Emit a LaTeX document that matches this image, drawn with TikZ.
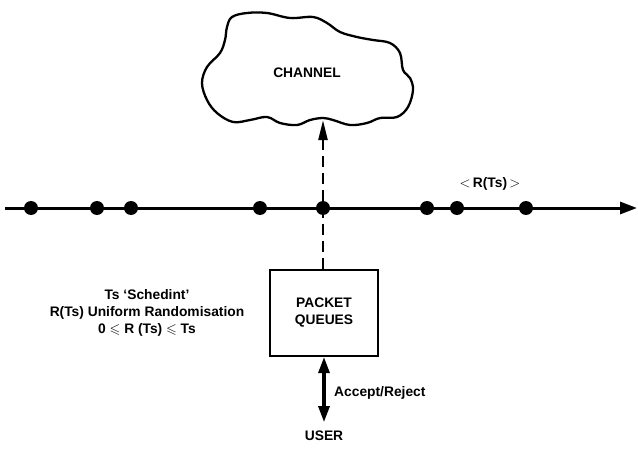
\documentclass[tikz,border=0pt]{standalone}
\usepackage{amssymb}
\usepackage{fontspec}
\setmainfont{Liberation Sans}
\usetikzlibrary{arrows.meta,calc,positioning}
\newcommand{\lbl}{\fontsize{13.8}{17}\selectfont\bfseries}

\begin{document}
\begin{tikzpicture}[x=1pt, y=-1pt]
\tikzstyle{main}=[font=\lbl, inner sep=2pt]
\tikzstyle{queue}=[main, rectangle, draw=black, line width=2.2pt, minimum width=108pt, minimum height=86pt, align=center]
\tikzstyle{dot}=[circle, fill=black, inner sep=0pt, minimum size=14pt]
\tikzstyle{timeline}=[line width=3pt, -{Triangle[length=17pt, width=12pt]}]
\tikzstyle{signal}=[line width=2.4pt, dash pattern=on 11pt off 6pt, -{Triangle[length=20pt, width=9pt]}]
\tikzstyle{connect}=[line width=3.2pt, {Triangle[length=16pt, width=11pt]}-{Triangle[length=16pt, width=11pt]}]

  \useasboundingbox (0,0) rectangle (638,452);

  % the channel
  \node[main] (channel) at (307,73) {CHANNEL};
  \draw[line width=2.3pt] plot[smooth cycle, tension=0.6] coordinates {
    (232,17) (247,13) (267,13) (290,18) (313,17) (327,23) (340,32)
    (357,37) (373,40) (390,43) (400,53) (403,70) (410,78) (413,90)
    (408,107) (397,117) (380,118) (367,123) (350,125) (333,120)
    (323,118) (310,120) (297,125) (280,123) (267,117) (250,120)
    (233,122) (217,113) (207,100) (202,83) (207,67) (220,53)
    (225,40) (227,27)};
  \coordinate (cloudbot) at (323,120);

  % the time line
  \coordinate (tstart) at (5,208);
  \coordinate (tend)   at (637,208);
  \draw[timeline] (tstart) -- (tend);
  \foreach \x [count=\i] in {31,97,131,260,323,427,457,526}
    \node[dot] (d\i) at (\x,208) {};
  \node[main] (rts) at (490,184) {$<$\,R(Ts)\,$>$};

  % queues and user
  \node[queue] (queues) at (324,313) {PACKET\\QUEUES};
  \node[main] (user) [below=72pt of queues.south] {USER};
  \node[main, anchor=west] (accept) at (332,393) {Accept/Reject};
  \node[main, align=center] (note) at (147,313)
    {Ts `Schedint'\\R(Ts) Uniform Randomisation\\0 $\leqslant$ R (Ts) $\leqslant$ Ts};

  \path (queues.north -| cloudbot) edge [signal] (cloudbot);
  \path (queues) edge [connect, shorten >=7pt] (user);

\end{tikzpicture}
\end{document}
